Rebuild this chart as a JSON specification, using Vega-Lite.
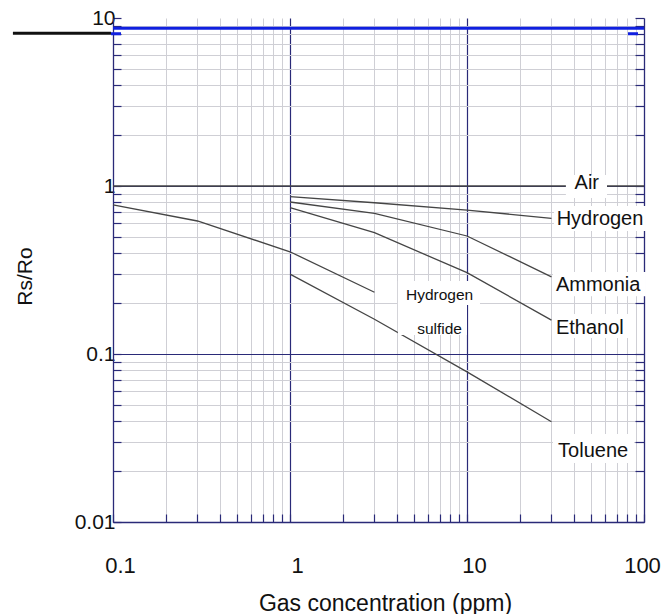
{
  "$schema": "https://vega.github.io/schema/vega-lite/v6.json",
  "width": 531,
  "height": 504,
  "autosize": {"type": "none"},
  "padding": {"left": 113, "top": 18, "right": 18, "bottom": 92},
  "background": "white",
  "config": {
    "view": {"stroke": null},
    "font": "Liberation Sans"
  },
  "datasets": {
    "curves": [
      {"gas": "Air", "x": 0.1, "y": 1},
      {"gas": "Air", "x": 100, "y": 1},
      {"gas": "Hydrogen sulfide", "x": 0.1, "y": 0.771},
      {"gas": "Hydrogen sulfide", "x": 0.3, "y": 0.619},
      {"gas": "Hydrogen sulfide", "x": 1, "y": 0.406},
      {"gas": "Hydrogen sulfide", "x": 3, "y": 0.233},
      {"gas": "Hydrogen", "x": 1, "y": 0.864},
      {"gas": "Hydrogen", "x": 3, "y": 0.795},
      {"gas": "Hydrogen", "x": 10, "y": 0.719},
      {"gas": "Hydrogen", "x": 30, "y": 0.642},
      {"gas": "Ammonia", "x": 1, "y": 0.803},
      {"gas": "Ammonia", "x": 3, "y": 0.688},
      {"gas": "Ammonia", "x": 10, "y": 0.504},
      {"gas": "Ammonia", "x": 30, "y": 0.288},
      {"gas": "Ethanol", "x": 1, "y": 0.743},
      {"gas": "Ethanol", "x": 3, "y": 0.527},
      {"gas": "Ethanol", "x": 10, "y": 0.305},
      {"gas": "Ethanol", "x": 30, "y": 0.159},
      {"gas": "Toluene", "x": 1, "y": 0.299},
      {"gas": "Toluene", "x": 3, "y": 0.161},
      {"gas": "Toluene", "x": 10, "y": 0.0783},
      {"gas": "Toluene", "x": 30, "y": 0.0395}
    ],
    "boxes": [
      {"label": "Air", "x": 36.2, "x2": 61.8, "y": 1.163, "y2": 0.848},
      {"label": "Hydrogen", "x": 31.0, "x2": 102.6, "y": 0.76, "y2": 0.54},
      {"label": "Ammonia", "x": 30.6, "x2": 102.6, "y": 0.308, "y2": 0.221},
      {"label": "Ethanol", "x": 30.6, "x2": 85.5, "y": 0.173, "y2": 0.1245},
      {"label": "Toluene", "x": 30.6, "x2": 87.8, "y": 0.0334, "y2": 0.02245},
      {"label": "Hydrogen sulfide 1", "x": 4.07, "x2": 11.84, "y": 0.272, "y2": 0.196},
      {"label": "Hydrogen sulfide 2", "x": 4.07, "x2": 10.0, "y": 0.196, "y2": 0.1297}
    ],
    "bigLabels": [
      {"text": "Hydrogen", "x": 32.1, "y": 0.582},
      {"text": "Ammonia", "x": 31.8, "y": 0.238},
      {"text": "Ethanol", "x": 31.8, "y": 0.1315},
      {"text": "Toluene", "x": 32.7, "y": 0.0245}
    ],
    "airLabel": [
      {"text": "Air", "x": 47.5, "y": 0.956}
    ],
    "smallLabels": [
      {"text": "Hydrogen", "x": 7.0, "y": 0.2097},
      {"text": "sulfide", "x": 7.0, "y": 0.131}
    ],
    "blueTop": [
      {"y": 8.68}
    ],
    "edgeMarks": [
      {"kind": "black", "x": 0.0272, "x2": 0.0974, "y": 8.11},
      {"kind": "blue", "x": 0.0974, "x2": 0.111, "y": 8.06},
      {"kind": "blue", "x": 81.2, "x2": 92.5, "y": 8.06}
    ]
  },
  "resolve": {"axis": {"x": "independent", "y": "independent"}},
  "layer": [
    {
      "data": {"name": "curves"},
      "mark": {"type": "line", "color": "#454545", "strokeWidth": 1.3},
      "encoding": {
        "x": {
          "field": "x", "type": "quantitative",
          "scale": {"type": "log", "domain": [0.1, 100], "nice": false},
          "axis": {
            "orient": "bottom",
            "values": [0.1, 0.2, 0.3, 0.4, 0.5, 0.6, 0.7, 0.8, 0.9, 1, 2, 3, 4, 5, 6, 7, 8, 9, 10, 20, 30, 40, 50, 60, 70, 80, 90, 100],
            "grid": true,
            "gridColor": {"condition": {"test": "datum.value == 1 || datum.value == 10", "value": "#2a2a78"}, "value": "#cfcfd5"},
            "gridWidth": {"condition": {"test": "datum.value == 1 || datum.value == 10", "value": 1.2}, "value": 1},
            "domain": true, "domainColor": "#2a2a78", "domainWidth": 1.3,
            "ticks": true, "tickColor": "#2a2a78", "tickSize": -8, "tickWidth": 1.2,
            "labelExpr": "datum.value == 0.1 ? '0.1' : datum.value == 1 ? '1' : datum.value == 10 ? '10' : datum.value == 100 ? '100' : ''",
            "labelFlush": false, "labelOverlap": false, "labelBound": false,
            "labelFontSize": 22, "labelColor": "#111", "labelBaseline": "alphabetic", "labelPadding": 58,
            "labelOffset": {"condition": {"test": "datum.value == 100", "value": -2}, "value": 7},
            "title": "Gas concentration (ppm)", "titleFontSize": 23, "titleFontWeight": "normal", "titleColor": "#111",
            "titleX": 272, "titleY": 88, "titleBaseline": "alphabetic", "titleAlign": "center"
          }
        },
        "y": {
          "field": "y", "type": "quantitative",
          "scale": {"type": "log", "domain": [0.01, 10], "nice": false},
          "axis": {
            "orient": "left",
            "values": [0.01, 0.02, 0.03, 0.04, 0.05, 0.06, 0.07, 0.08, 0.09, 0.1, 0.2, 0.3, 0.4, 0.5, 0.6, 0.7, 0.8, 0.9, 1, 2, 3, 4, 5, 6, 7, 8, 9, 10],
            "grid": true,
            "gridColor": {"condition": {"test": "datum.value == 0.1 || datum.value == 1", "value": "#2a2a78"}, "value": "#cfcfd5"},
            "gridOpacity": {"condition": {"test": "datum.value == 10", "value": 0}, "value": 1},
            "domain": true, "domainColor": "#2a2a78", "domainWidth": 1.3,
            "ticks": true, "tickColor": "#2a2a78", "tickSize": -8, "tickWidth": 1.2,
            "labelExpr": "datum.value == 0.01 ? '0.01' : datum.value == 0.1 ? '0.1' : datum.value == 1 ? '1' : datum.value == 10 ? '10' : ''",
            "labelOverlap": false, "labelBound": false, "labelFlush": false,
            "labelFontSize": 21, "labelColor": "#111", "labelBaseline": "middle", "labelPadding": 6,
            "title": "Rs/Ro", "titleFontSize": 21, "titleFontWeight": "normal", "titleColor": "#111",
            "titleX": -88, "titleY": 258, "titleBaseline": "middle", "titleAlign": "center", "titleAngle": 270
          }
        },
        "detail": {"field": "gas", "type": "nominal"}
      }
    },
    {
      "data": {"name": "blueTop"},
      "mark": {"type": "rule", "color": "#1020e0", "strokeWidth": 3},
      "encoding": {
        "y": {
          "field": "y", "type": "quantitative",
          "scale": {"type": "log", "domain": [0.01, 10], "nice": false},
          "axis": {
            "orient": "right",
            "values": [0.01, 0.02, 0.03, 0.04, 0.05, 0.06, 0.07, 0.08, 0.09, 0.1, 0.2, 0.3, 0.4, 0.5, 0.6, 0.7, 0.8, 0.9, 1, 2, 3, 4, 5, 6, 7, 8, 9, 10],
            "grid": false, "labels": false, "title": null,
            "domain": true, "domainColor": "#2a2a78", "domainWidth": 1.3,
            "ticks": true, "tickColor": "#2a2a78", "tickSize": -9, "tickWidth": 1.2
          }
        }
      }
    },
    {
      "data": {"name": "edgeMarks"},
      "mark": {"type": "rule", "strokeWidth": 3},
      "encoding": {
        "x": {"field": "x", "type": "quantitative", "scale": {"type": "log", "domain": [0.1, 100], "nice": false}, "axis": null},
        "x2": {"field": "x2"},
        "y": {"field": "y", "type": "quantitative", "scale": {"type": "log", "domain": [0.01, 10], "nice": false}, "axis": null},
        "color": {"field": "kind", "type": "nominal", "scale": {"domain": ["black", "blue"], "range": ["#111111", "#1020e0"]}, "legend": null}
      }
    },
    {
      "data": {"name": "boxes"},
      "mark": {"type": "rect", "color": "white", "opacity": 1},
      "encoding": {
        "x": {"field": "x", "type": "quantitative", "scale": {"type": "log", "domain": [0.1, 100], "nice": false}, "axis": null},
        "x2": {"field": "x2"},
        "y": {"field": "y", "type": "quantitative", "scale": {"type": "log", "domain": [0.01, 10], "nice": false}, "axis": null},
        "y2": {"field": "y2"}
      }
    },
    {
      "data": {"name": "bigLabels"},
      "mark": {"type": "text", "align": "left", "baseline": "alphabetic", "fontSize": 20, "color": "#111"},
      "encoding": {
        "x": {"field": "x", "type": "quantitative", "scale": {"type": "log", "domain": [0.1, 100], "nice": false}, "axis": null},
        "y": {"field": "y", "type": "quantitative", "scale": {"type": "log", "domain": [0.01, 10], "nice": false}, "axis": null},
        "text": {"field": "text"}
      }
    },
    {
      "data": {"name": "airLabel"},
      "mark": {"type": "text", "align": "center", "baseline": "alphabetic", "fontSize": 20, "color": "#111"},
      "encoding": {
        "x": {"field": "x", "type": "quantitative", "scale": {"type": "log", "domain": [0.1, 100], "nice": false}, "axis": null},
        "y": {"field": "y", "type": "quantitative", "scale": {"type": "log", "domain": [0.01, 10], "nice": false}, "axis": null},
        "text": {"field": "text"}
      }
    },
    {
      "data": {"name": "smallLabels"},
      "mark": {"type": "text", "align": "center", "baseline": "alphabetic", "fontSize": 15.5, "color": "#111"},
      "encoding": {
        "x": {"field": "x", "type": "quantitative", "scale": {"type": "log", "domain": [0.1, 100], "nice": false}, "axis": null},
        "y": {"field": "y", "type": "quantitative", "scale": {"type": "log", "domain": [0.01, 10], "nice": false}, "axis": null},
        "text": {"field": "text"}
      }
    }
  ]
}
